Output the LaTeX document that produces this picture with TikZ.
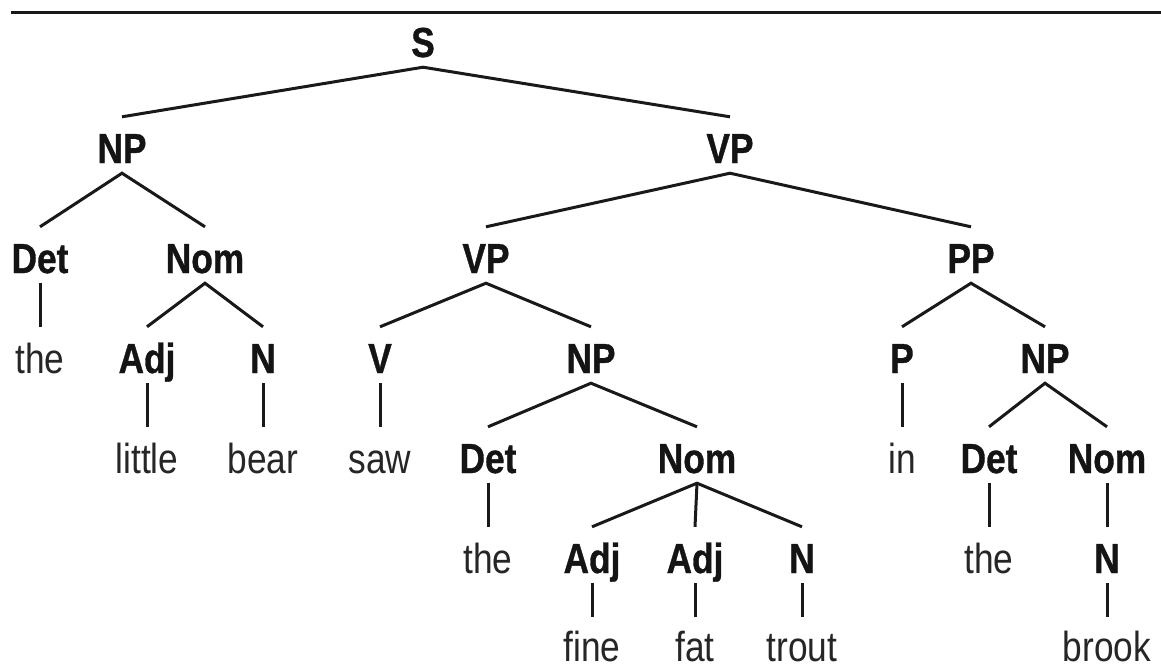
\documentclass[tikz,border=0pt]{standalone}
\usepackage{fontspec}
\setmainfont{Liberation Sans}[FakeStretch=0.84,BoldFeatures={FakeBold=0.8}]
\begin{document}
\begin{tikzpicture}[x=1pt,y=-1pt,
  lab/.style={anchor=base,inner xsep=0pt,inner ysep=10pt,text height=36pt,text depth=0pt,font=\fontsize{42}{48}\selectfont},
  cat/.style={lab,font=\fontsize{42}{48}\selectfont\bfseries,text=black!92},
  word/.style={lab,text=black!85},
  lastword/.style={word,inner ysep=0pt,text height=44pt},
  edge/.style={line width=3pt,draw=black!90}]
\useasboundingbox (0,0) rectangle (1161,670);
\draw[line width=3pt,black!90] (11,12) -- (1161,12);
% row 0
\node[cat] (S) at (423,57) {S};
% row 1
\node[cat] (NPa) at (122,163) {NP};
\node[cat] (VPa) at (730,163) {VP};
% row 2
\node[cat] (Deta) at (40,273) {Det};
\node[cat] (Noma) at (205,273) {Nom};
\node[cat] (VPb) at (486,273) {VP};
\node[cat] (PP) at (971,273) {PP};
% row 3
\node[word] (thea) at (40,373) {the};
\node[cat] (Adja) at (147,373) {Adj};
\node[cat] (Na) at (263,373) {N};
\node[cat] (V) at (380,373) {V};
\node[cat] (NPb) at (591,373) {NP};
\node[cat] (P) at (902,373) {P};
\node[cat] (NPc) at (1045,373) {NP};
% row 4
\node[word] (little) at (147,473) {little};
\node[word] (bear) at (263,473) {bear};
\node[word] (saw) at (380,473) {saw};
\node[cat] (Detb) at (488,473) {Det};
\node[cat] (Nomb) at (697,473) {Nom};
\node[word] (in) at (902,473) {in};
\node[cat] (Detc) at (989,473) {Det};
\node[cat] (Nomc) at (1107,473) {Nom};
% row 5
\node[word] (theb) at (488,573) {the};
\node[cat] (Adjb) at (592,573) {Adj};
\node[cat] (Adjc) at (695,573) {Adj};
\node[cat] (Nb) at (802,573) {N};
\node[word] (thec) at (989,573) {the};
\node[cat] (Nc) at (1107,573) {N};
% row 6
\node[lastword] (fine) at (592,661) {fine};
\node[lastword] (fat) at (695,661) {fat};
\node[lastword] (trout) at (802,661) {trout};
\node[lastword] (brook) at (1107,661) {brook};
% edges
\draw[edge] (NPa.north) -- (S.south) -- (VPa.north);
\draw[edge] (Deta.north) -- (NPa.south) -- (Noma.north);
\draw[edge] (VPb.north) -- (VPa.south) -- (PP.north);
\draw[edge] (Deta.south) -- (thea.north);
\draw[edge] (Adja.north) -- (Noma.south) -- (Na.north);
\draw[edge] (V.north) -- (VPb.south) -- (NPb.north);
\draw[edge] (P.north) -- (PP.south) -- (NPc.north);
\draw[edge] (Adja.south) -- (little.north);
\draw[edge] (Na.south) -- (bear.north);
\draw[edge] (V.south) -- (saw.north);
\draw[edge] (Detb.north) -- (NPb.south) -- (Nomb.north);
\draw[edge] (P.south) -- (in.north);
\draw[edge] (Detc.north) -- (NPc.south) -- (Nomc.north);
\draw[edge] (Detb.south) -- (theb.north);
\draw[edge] (Adjb.north) -- (Nomb.south) -- (Nb.north);
\draw[edge] (Nomb.south) -- (Adjc.north);
\draw[edge] (Detc.south) -- (thec.north);
\draw[edge] (Nomc.south) -- (Nc.north);
\draw[edge] (Adjb.south) -- (fine.north);
\draw[edge] (Adjc.south) -- (fat.north);
\draw[edge] (Nb.south) -- (trout.north);
\draw[edge] (Nc.south) -- (brook.north);
\end{tikzpicture}
\end{document}
